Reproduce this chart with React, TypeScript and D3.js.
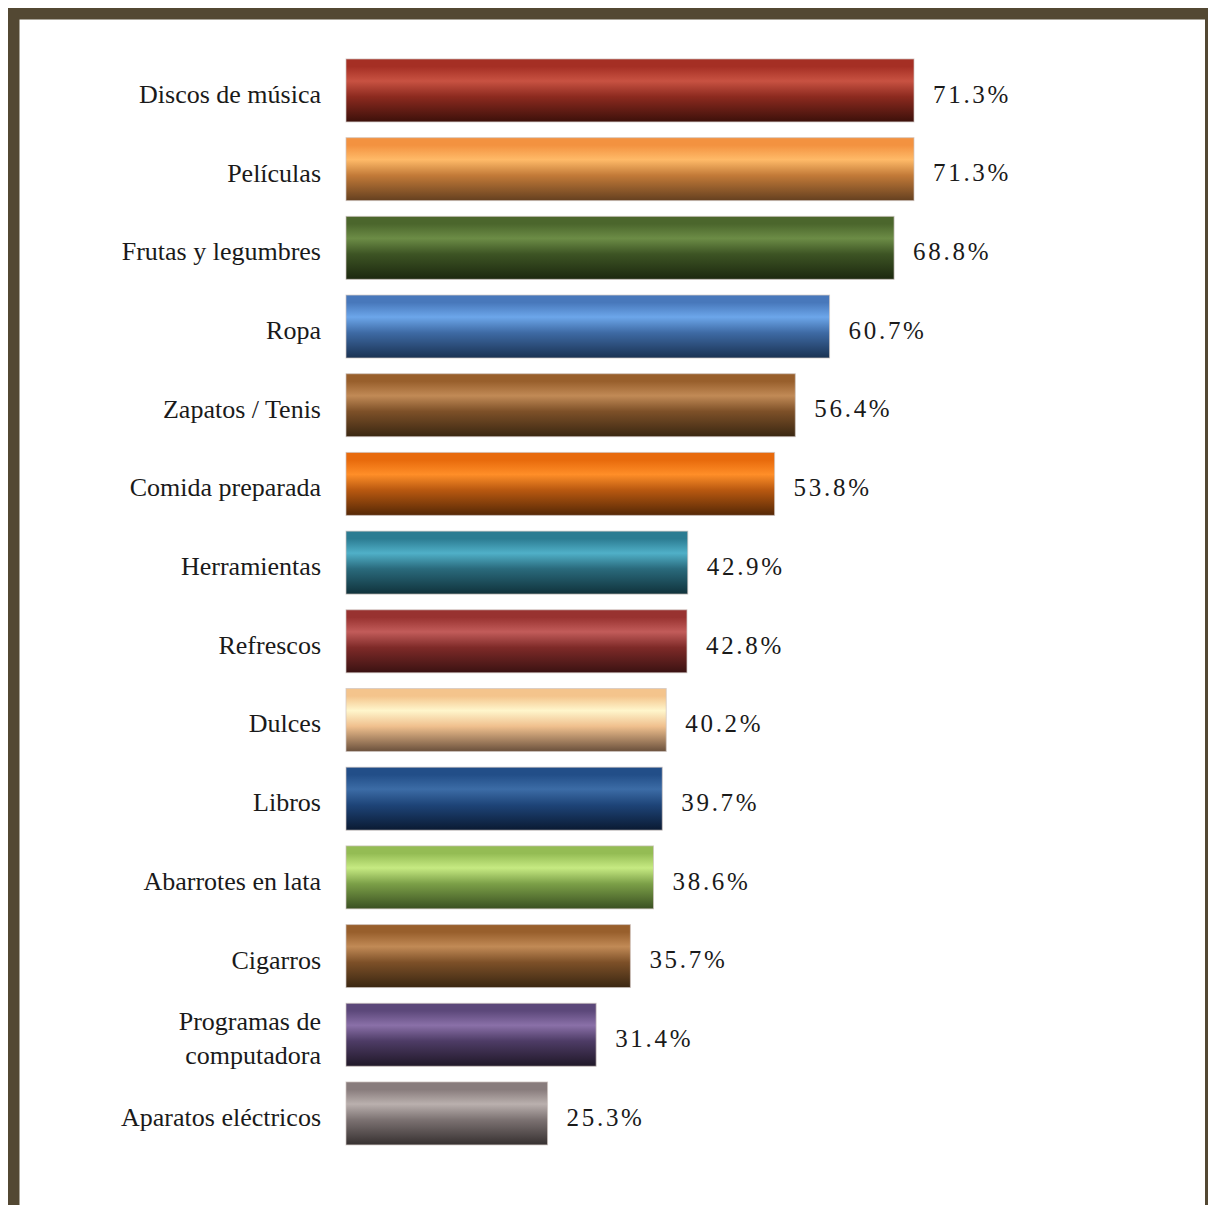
import React from "react";
import * as d3 from "d3";

const categories = [
  "Discos de música",
  "Películas",
  "Frutas y legumbres",
  "Ropa",
  "Zapatos / Tenis",
  "Comida preparada",
  "Herramientas",
  "Refrescos",
  "Dulces",
  "Libros",
  "Abarrotes en lata",
  "Cigarros",
  "Programas de computadora",
  "Aparatos eléctricos",
];

const values = [71.3, 71.3, 68.8, 60.7, 56.4, 53.8, 42.9, 42.8, 40.2, 39.7, 38.6, 35.7, 31.4, 25.3];

const labelLines: string[][] = [
  ["Discos de música"],
  ["Películas"],
  ["Frutas y legumbres"],
  ["Ropa"],
  ["Zapatos / Tenis"],
  ["Comida preparada"],
  ["Herramientas"],
  ["Refrescos"],
  ["Dulces"],
  ["Libros"],
  ["Abarrotes en lata"],
  ["Cigarros"],
  ["Programas de", "computadora"],
  ["Aparatos eléctricos"],
];

// gradient stops: top, highlight, mid, bottom
const palettes: string[][] = [
  ["#a52f24", "#c85242", "#8c2a1f", "#3c100a"],
  ["#f39240", "#ffba68", "#c27a38", "#654020"],
  ["#4b662c", "#6c8c46", "#3d5424", "#1c280f"],
  ["#4878bb", "#6ca6ea", "#3e6aa4", "#1a3252"],
  ["#985f2c", "#c18a56", "#7d5028", "#3a2712"],
  ["#e86a0c", "#ff8e28", "#b85810", "#552806"],
  ["#2c7c92", "#50b0c8", "#2a6a7c", "#10323b"],
  ["#983230", "#c25c5a", "#7e2a28", "#3a1212"],
  ["#f4c48c", "#fff6cc", "#f0c08e", "#6a503c"],
  ["#224e88", "#3c6ca6", "#1e4478", "#0a1a32"],
  ["#94bc54", "#c6ea82", "#7ca048", "#3a5022"],
  ["#985f2c", "#c18a56", "#7d5028", "#3a2712"],
  ["#5c487a", "#8a70a8", "#4e3c66", "#201828"],
  ["#887c7c", "#bab0ae", "#7c7272", "#363030"],
];

const W = 1208;
const H = 1205;

export default function App() {
  const x = d3.scaleLinear().domain([0, 100]).range([346, 346 + (914 - 346) / 0.713]);
  const y = d3
    .scaleBand<string>()
    .domain(categories)
    .range([51.1, 1152.8])
    .paddingInner(0.2)
    .paddingOuter(0.1);
  const font = "'Liberation Serif', 'Times New Roman', serif";
  return (
    <svg
      width={W}
      height={H}
      style={{ position: "absolute", left: 0, top: 0, display: "block" }}
    >
      <defs>
        {palettes.map((p, i) => (
          <linearGradient key={i} id={`g${i}`} x1="0" y1="0" x2="0" y2="1">
            <stop offset="0" stopColor={p[0]} />
            <stop offset="0.12" stopColor={p[0]} />
            <stop offset="0.35" stopColor={p[1]} />
            <stop offset="0.6" stopColor={p[2]} />
            <stop offset="1" stopColor={p[3]} />
          </linearGradient>
        ))}
      </defs>
      <rect x={8} y={8} width={W - 8} height={H - 8} fill="#534833" />
      <rect x={19.5} y={19.5} width={1205 - 19.5} height={H} fill="#ffffff" />
      {categories.map((c, i) => {
        const y0 = y(c)!;
        const bh = y.bandwidth();
        const cy = y0 + bh / 2;
        const v = values[i];
        const lines = labelLines[i];
        return (
          <g key={c}>
            <rect
              x={x(0)}
              y={y0}
              width={x(v) - x(0)}
              height={bh}
              fill={`url(#g${i})`}
              stroke="#cfc4c0"
              strokeOpacity={0.7}
              strokeWidth={1}
            />
            {lines.map((ln, k) => (
              <text
                key={k}
                x={321}
                y={cy + 6.5 + (k - (lines.length - 1) / 2) * 34}
                textAnchor="end"
                dominantBaseline="middle"
                fontFamily={font}
                fontSize={26}
                fill="#1a1a1a"
              >
                {ln}
              </text>
            ))}
            <text
              x={x(v) + 19}
              y={cy + 6.5}
              dominantBaseline="middle"
              fontFamily={font}
              fontSize={25}
              letterSpacing={2.7}
              fill="#1a1a1a"
            >
              {v.toFixed(1)}%
            </text>
          </g>
        );
      })}
    </svg>
  );
}
